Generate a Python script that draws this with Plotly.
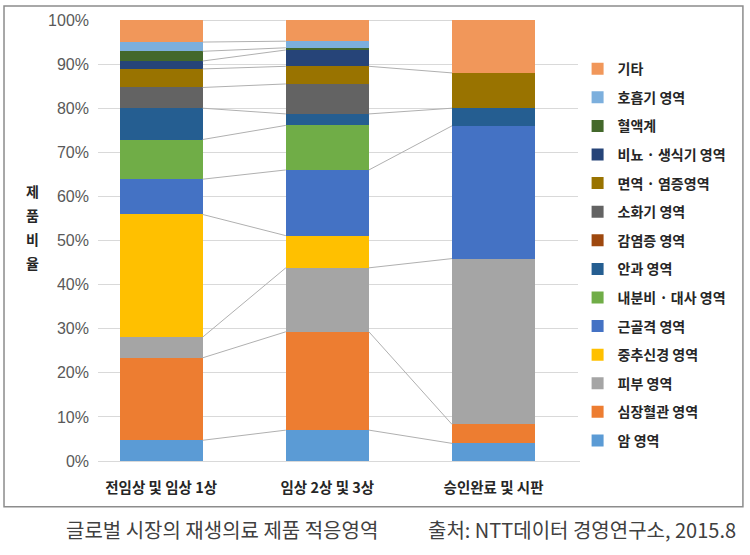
import numpy as np
import plotly.graph_objects as go

# -------------------------------------------------------
# 데이터 (그림에서 읽은 값, %)
# -------------------------------------------------------
stages = ["전임상 및 임상 1상", "임상 2상 및 3상", "승인완료 및 시판"]

# 아래에서 위로 쌓이는 순서
series_names = [
    "암 영역", "심장혈관 영역", "피부 영역", "중추신경 영역", "근골격 영역",
    "내분비 · 대사 영역", "안과 영역", "감염증 영역", "소화기 영역",
    "면역 · 염증영역", "비뇨 · 생식기 영역", "혈액계", "호흡기 영역", "기타",
]

cancer = [4.7, 7.0, 4.0]
cardio = [18.7, 22.3, 4.3]
skin = [4.7, 14.5, 37.6]
cns = [27.8, 7.3, 0.0]
musculo = [8.0, 14.9, 30.1]
endocrine = [9.0, 10.1, 0.0]
ophthal = [7.1, 2.6, 4.0]
infection = [0.0, 0.0, 0.0]
digestive = [4.7, 6.8, 0.0]
immune = [4.2, 4.0, 8.0]
urology = [1.8, 3.7, 0.0]
blood = [2.2, 0.5, 0.0]
respiratory = [2.1, 1.5, 0.0]
other = [5.0, 4.8, 12.0]

series_values = [cancer, cardio, skin, cns, musculo, endocrine, ophthal,
                 infection, digestive, immune, urology, blood, respiratory, other]

colors = ["#5B9BD5", "#ED7D31", "#A5A5A5", "#FFC000", "#4472C4", "#70AD47",
          "#255E91", "#9E480E", "#636363", "#997300", "#264478", "#43682B",
          "#7CAFDD", "#F1975A"]

caption_left = "글로벌 시장의 재생의료 제품 적응영역"
caption_right = "출처: NTT데이터 경영연구소, 2015.8"

FONT = "Noto Sans CJK KR"
BAR_W = 0.5

# -------------------------------------------------------
# 누적 막대
# -------------------------------------------------------
x_pos = list(range(len(stages)))
fig = go.Figure()

n = len(series_names)
for k, (name, vals, col) in enumerate(zip(series_names, series_values, colors)):
    fig.add_trace(go.Bar(
        x=x_pos, y=vals, name=name, width=BAR_W,
        marker=dict(color=col, line=dict(width=0)),
        legendgroup=name, legendrank=n - k,   # 범례는 위에서부터 (기타 먼저)
    ))

# 계열선 (막대 사이 연결선)
tops = np.cumsum(np.array(series_values), axis=0)
lx, ly = [], []
for s, vals in enumerate(series_values):
    for i in range(len(stages) - 1):
        if vals[i] > 0 and vals[i + 1] > 0:
            lx += [i + BAR_W / 2, i + 1 - BAR_W / 2, None]
            ly += [tops[s][i], tops[s][i + 1], None]

fig.add_trace(go.Scatter(
    x=lx, y=ly, mode="lines", line=dict(color="#B0B0B0", width=1),
    showlegend=False, hoverinfo="skip",
))

# -------------------------------------------------------
# 레이아웃
# -------------------------------------------------------
fig.update_layout(
    width=750, height=555,
    margin=dict(l=98, r=170, t=18, b=94),
    barmode="stack", bargap=0,
    paper_bgcolor="white", plot_bgcolor="white",
    font=dict(family=FONT, color="#404040"),
    legend=dict(
        x=0.995, y=0.925, xanchor="left", yanchor="top",
        traceorder="grouped", tracegroupgap=7.4,
        font=dict(family=FONT, size=14, color="#262626", weight="bold"),
        itemwidth=30,
    ),
    xaxis=dict(
        range=[-0.38, 2.52], tickvals=x_pos, ticktext=stages,
        showgrid=False, zeroline=False, showline=False, ticks="",
        tickfont=dict(family=FONT, size=14.5, color="#262626", weight="bold"),
        ticklabelstandoff=16,
    ),
    yaxis=dict(
        range=[0, 100], dtick=10, ticksuffix="%",
        showgrid=True, gridcolor="#D9D9D9", gridwidth=1,
        zeroline=True, zerolinecolor="#D9D9D9", zerolinewidth=1,
        showline=False, ticks="",
        tickfont=dict(family="Liberation Sans", size=16, color="#595959"),
        ticklabelstandoff=8,
    ),
)

# y축 제목 (세로쓰기)
for k, ch in enumerate("제품비율"):
    fig.add_annotation(
        xref="paper", yref="paper", x=-0.135, y=0.612 - k * 0.054,
        xanchor="center", yanchor="middle",
        text=ch, showarrow=False,
        font=dict(family=FONT, size=14, color="#262626", weight="bold"),
    )

# 캡션
fig.add_annotation(
    xref="paper", yref="paper", x=0.257, y=-0.156,
    xanchor="center", yanchor="middle",
    text=caption_left, showarrow=False,
    font=dict(family=FONT, size=20, color="#404040"),
)
fig.add_annotation(
    xref="paper", yref="paper", x=1.328, y=-0.156,
    xanchor="right", yanchor="middle",
    text=caption_right, showarrow=False,
    font=dict(family=FONT, size=20, color="#404040"),
)

# 차트 테두리
fig.add_shape(
    type="rect", xref="paper", yref="paper",
    x0=-0.195, x1=1.338, y0=-0.104, y1=1.032,
    line=dict(color="#8C8C8C", width=1.5),
)

fig.write_html(
    "out.html",
    config={"displayModeBar": False},
    post_script="document.body.style.margin='0px';",
)
